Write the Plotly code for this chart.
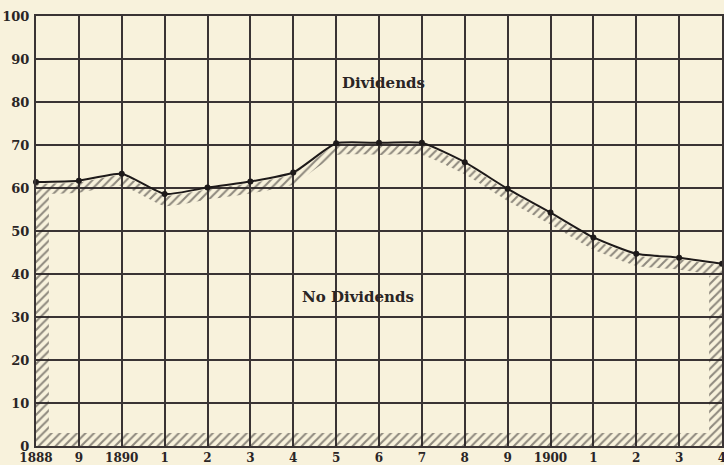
import plotly.graph_objects as go

YEARS = list(range(1888, 1905))
YEAR_LABELS = ["1888", "9", "1890", "1", "2", "3", "4", "5", "6", "7", "8",
               "9", "1900", "1", "2", "3", "4"]
PERCENT = [61.4, 61.7, 63.3, 58.6, 60.1, 61.5, 63.6, 70.4, 70.5, 70.5,
           66.0, 59.8, 54.3, 48.5, 44.7, 43.8, 42.4]
Y_TICKS = list(range(0, 101, 10))

INK = "#3a3434"
PAPER = "#f8f2dc"
BAND = 2.8      # depth of hatched shadow under the curve (in %)
EDGE_X = 0.3    # width of hatched side borders (in years)
EDGE_Y = 3.0    # height of hatched bottom border (in %)
FONT = "DejaVu Serif"
SMOOTH = 0.5

pattern = dict(shape="/", size=6, solidity=0.35, fgcolor="#262121", bgcolor="rgba(0,0,0,0)")
noline = dict(width=0, color="rgba(0,0,0,0)")

fig = go.Figure()

# hatched shadow under the curve
fig.add_trace(go.Scatter(
    x=YEARS, y=[v - BAND for v in PERCENT], mode="lines",
    line=dict(width=0, shape="spline", smoothing=SMOOTH), hoverinfo="skip", showlegend=False,
))
fig.add_trace(go.Scatter(
    x=YEARS, y=[v - 0.4 for v in PERCENT], mode="lines", fill="tonexty",
    fillcolor="rgba(0,0,0,0)", fillpattern=pattern,
    line=dict(width=0, shape="spline", smoothing=SMOOTH), hoverinfo="skip", showlegend=False,
))

# hatched border of the "No Dividends" area
x0, x1 = YEARS[0], YEARS[-1]
fig.add_trace(go.Scatter(
    x=[x0, x1, x1, x0], y=[0, 0, EDGE_Y, EDGE_Y], fill="toself", mode="lines",
    fillcolor="rgba(0,0,0,0)", fillpattern=pattern, line=noline,
    hoverinfo="skip", showlegend=False,
))
fig.add_trace(go.Scatter(
    x=[x0, x0 + EDGE_X, x0 + EDGE_X, x0], y=[EDGE_Y, EDGE_Y, PERCENT[0] - BAND, PERCENT[0] - BAND],
    fill="toself", mode="lines", fillcolor="rgba(0,0,0,0)", fillpattern=pattern, line=noline,
    hoverinfo="skip", showlegend=False,
))
fig.add_trace(go.Scatter(
    x=[x1 - EDGE_X, x1, x1, x1 - EDGE_X], y=[EDGE_Y, EDGE_Y, PERCENT[-1] - BAND, PERCENT[-1] - BAND],
    fill="toself", mode="lines", fillcolor="rgba(0,0,0,0)", fillpattern=pattern, line=noline,
    hoverinfo="skip", showlegend=False,
))

# the dividend line
fig.add_trace(go.Scatter(
    x=YEARS, y=PERCENT, mode="lines+markers",
    line=dict(color="#1e1a1a", width=2, shape="spline", smoothing=SMOOTH),
    marker=dict(size=6, color="#1e1a1a"),
    showlegend=False, cliponaxis=False,
))

fig.add_annotation(x=1896.1, y=84.5, text="<b>Dividends</b>", showarrow=False,
                   font=dict(family=FONT, size=15, color="#2a2525"))
fig.add_annotation(x=1895.5, y=34.7, text="<b>No Dividends</b>", showarrow=False,
                   font=dict(family=FONT, size=15, color="#2a2525"))

fig.update_layout(
    width=724, height=465,
    margin=dict(l=36, r=2, t=16, b=19),
    paper_bgcolor=PAPER, plot_bgcolor=PAPER,
    font=dict(family=FONT, color="#2a2525"),
    xaxis=dict(
        range=[x0, x1], tickvals=YEARS, ticktext=YEAR_LABELS, automargin=False,
        showgrid=True, gridcolor=INK, gridwidth=1.6, zeroline=False,
        showline=True, linecolor=INK, linewidth=2, mirror=True,
        ticks="", ticklen=0, ticklabelstandoff=0, ticklabeloverflow="allow",
        tickfont=dict(family=FONT, size=12, color="#2a2525", weight="bold"),
    ),
    yaxis=dict(
        range=[0, 100], tickvals=Y_TICKS, automargin=False,
        showgrid=True, gridcolor=INK, gridwidth=1.6, zeroline=False,
        showline=True, linecolor=INK, linewidth=2, mirror=True,
        ticks="", ticklen=0, ticklabelstandoff=2,
        tickfont=dict(family=FONT, size=13, color="#2a2525", weight="bold"),
    ),
)

fig.write_html("out.html", config={"displayModeBar": False},
               post_script="document.body.style.margin='0';")
